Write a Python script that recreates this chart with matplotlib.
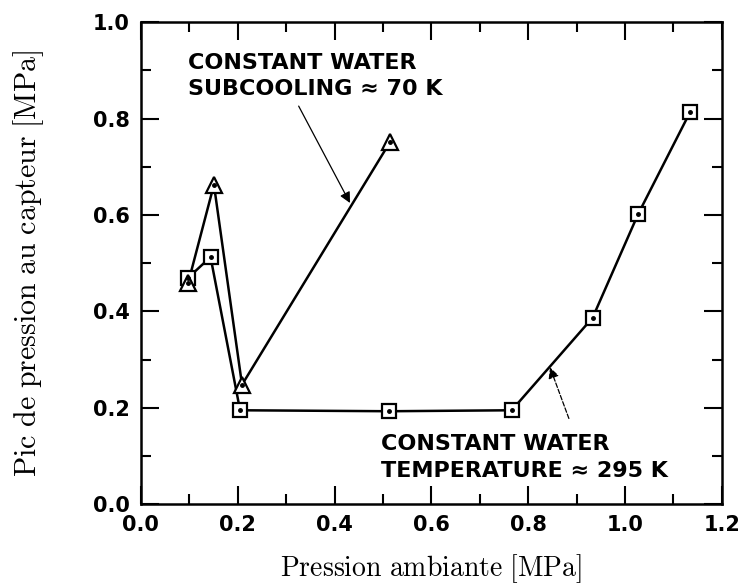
import matplotlib
matplotlib.use("Agg")
import matplotlib.pyplot as plt
from matplotlib.ticker import MultipleLocator, FormatStrFormatter

plt.rcParams["mathtext.fontset"] = "cm"
plt.rcParams["font.family"] = ["DejaVu Sans"]

# constant water temperature (~295 K), square markers
p_temp = [0.098, 0.144, 0.205, 0.513, 0.766, 0.933, 1.027, 1.134]
pk_temp = [0.470, 0.513, 0.195, 0.193, 0.195, 0.387, 0.602, 0.813]
# constant water subcooling (~70 K), triangle markers
p_sub = [0.098, 0.151, 0.209, 0.515]
pk_sub = [0.460, 0.663, 0.248, 0.752]

fig = plt.figure(figsize=(7.45, 5.85), dpi=100)
ax = fig.add_axes([0.189, 0.138, 0.780, 0.824])

lw = 1.8
ax.plot(p_temp, pk_temp, color="black", lw=lw, zorder=2)
ax.plot(p_sub, pk_sub, color="black", lw=lw, zorder=2)
ax.plot(p_temp, pk_temp, ls="none", marker="s", ms=10, mfc="white",
        mec="black", mew=1.6, zorder=3)
ax.plot(p_sub, pk_sub, ls="none", marker="^", ms=11, mfc="white",
        mec="black", mew=1.6, zorder=4)
ax.plot(p_temp + p_sub, pk_temp + pk_sub, ls="none", marker="o", ms=2.5,
        color="black", zorder=5)

ax.set_xlim(0, 1.2)
ax.set_ylim(0, 1.0)
ax.xaxis.set_major_locator(MultipleLocator(0.2))
ax.xaxis.set_minor_locator(MultipleLocator(0.1))
ax.yaxis.set_major_locator(MultipleLocator(0.2))
ax.yaxis.set_minor_locator(MultipleLocator(0.1))
ax.xaxis.set_major_formatter(FormatStrFormatter("%.1f"))
ax.yaxis.set_major_formatter(FormatStrFormatter("%.1f"))
ax.tick_params(which="both", direction="in", top=True, right=True, width=1.5)
ax.tick_params(which="major", length=13, labelsize=15, pad=8)
ax.tick_params(which="minor", length=7)
for lab in ax.get_xticklabels() + ax.get_yticklabels():
    lab.set_fontweight("bold")
for s in ax.spines.values():
    s.set_linewidth(1.8)

ax.set_xlabel(r"$\mathrm{Pression\ ambiante\ [MPa]}$", fontsize=20, labelpad=12)
ax.set_ylabel(r"$\mathrm{Pic\ de\ pression\ au\ capteur\ [MPa]}$", fontsize=21.5,
              labelpad=34)

ax.text(0.097, 0.937, "CONSTANT WATER\nSUBCOOLING \u2248 70 K", fontsize=16,
        fontweight="bold", ha="left", va="top", linespacing=1.4)
ax.annotate("", xy=(0.432, 0.625), xytext=(0.326, 0.826),
            arrowprops=dict(arrowstyle="-|>", color="black", lw=0.9,
                            shrinkA=0, shrinkB=0, mutation_scale=16))

ax.text(0.495, 0.145, "CONSTANT WATER\nTEMPERATURE \u2248 295 K", fontsize=16,
        fontweight="bold", ha="left", va="top", linespacing=1.4)
ax.annotate("", xy=(0.845, 0.284), xytext=(0.884, 0.178),
            arrowprops=dict(arrowstyle="-|>", color="black", lw=0.9, ls="--",
                            shrinkA=0, shrinkB=0, mutation_scale=16))

fig.savefig("out.png", dpi=100)
